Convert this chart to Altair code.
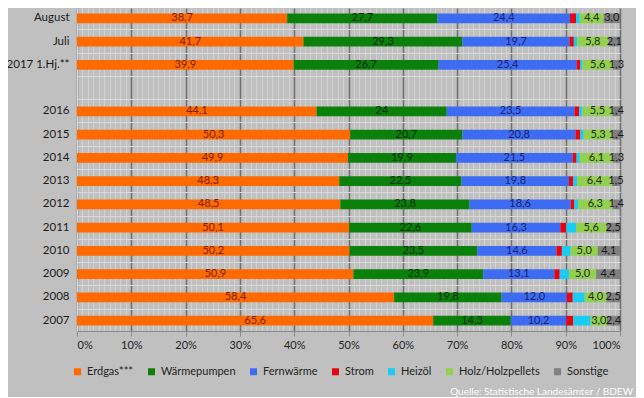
import altair as alt
import pandas as pd

categories = ["August", "Juli", "2017 1.Hj.**", " ", "2016", "2015", "2014", "2013",
              "2012", "2011", "2010", "2009", "2008", "2007"]
rows_with_data = ["August", "Juli", "2017 1.Hj.**", "2016", "2015", "2014", "2013",
                  "2012", "2011", "2010", "2009", "2008", "2007"]
series = ["Erdgas***", "Wärmepumpen", "Fernwärme", "Strom", "Heizöl", "Holz/Holzpellets", "Sonstige"]

erdgas = [38.7, 41.7, 39.9, 44.1, 50.3, 49.9, 48.3, 48.5, 50.1, 50.2, 50.9, 58.4, 65.6]
waermepumpen = [27.7, 29.3, 26.7, 24.0, 20.7, 19.9, 22.5, 23.8, 22.6, 23.5, 23.9, 19.8, 14.3]
fernwaerme = [24.4, 19.7, 25.4, 23.5, 20.8, 21.5, 19.8, 18.6, 16.3, 14.6, 13.1, 12.0, 10.2]
strom = [1.1, 0.8, 0.7, 0.9, 0.9, 0.7, 0.8, 0.7, 1.1, 1.0, 1.0, 1.1, 1.3]
heizoel = [0.7, 0.6, 0.4, 0.6, 0.6, 0.6, 0.7, 0.7, 1.8, 1.6, 1.7, 2.2, 3.2]
holz = [4.4, 5.8, 5.6, 5.5, 5.3, 6.1, 6.4, 6.3, 5.6, 5.0, 5.0, 4.0, 3.0]
sonstige = [3.0, 2.1, 1.3, 1.4, 1.4, 1.3, 1.5, 1.4, 2.5, 4.1, 4.4, 2.5, 2.4]

labelled = ["Erdgas***", "Wärmepumpen", "Fernwärme", "Holz/Holzpellets", "Sonstige"]
label_overrides = {("2016", "Wärmepumpen"): "24"}

bar_colors = ["#FF6A00", "#0B800B", "#3D6CF2", "#E30613", "#1CCBF4", "#92D050", "#808080"]
text_colors = ["#7A1E00", "#0A2E0A", "#16236B", "#000000", "#000000", "#1E2A10", "#1A1A1A"]

values = [erdgas, waermepumpen, fernwaerme, strom, heizoel, holz, sonstige]

recs = []
for i, cat in enumerate(rows_with_data):
    start = 0.0
    for j, s in enumerate(series):
        v = values[j][i]
        lab = ""
        if s in labelled:
            lab = label_overrides.get((cat, s), f"{v:.1f}".replace(".", ","))
        recs.append(dict(cat=cat, series=s, start=start, end=start + v,
                         mid=start + v / 2, label=lab, tcolor=text_colors[j], order=j))
        start += v
df = pd.DataFrame(recs)

FONT = "Lato"
xscale = alt.Scale(domain=[0, 100], nice=False, zero=True)
yscale = alt.Scale(domain=categories, paddingInner=0.583, paddingOuter=0.234)

grid_layer = alt.Chart(df).mark_tick(opacity=0).encode(
    x=alt.X("start:Q", scale=xscale,
            axis=alt.Axis(values=list(range(0, 101)), grid=True, gridColor="#d2d2d2",
                          gridWidth=1, labels=False, ticks=False, domain=False,
                          title=None, orient="bottom")),
    y=alt.Y("cat:N", scale=yscale, sort=categories,
            axis=alt.Axis(grid=True, gridColor="#dadada", gridWidth=1, labels=False,
                          ticks=False, domain=False, title=None, orient="left",
                          bandPosition=-0.699)),
)

bars = alt.Chart(df).mark_bar().encode(
    x=alt.X("start:Q", scale=xscale,
            axis=alt.Axis(values=list(range(0, 101, 10)), grid=True, gridColor="#6f6f6f",
                          gridWidth=1.5, labelExpr="datum.value + '%'", title=None,
                          tickSize=5, tickColor="#8a8a8a", domainColor="#8a8a8a",
                          labelFont=FONT, labelFontSize=11, labelColor="#222222",
                          labelPadding=3, orient="bottom")),
    x2="end:Q",
    y=alt.Y("cat:N", scale=yscale, sort=categories,
            axis=alt.Axis(title=None, grid=False, ticks=False, domain=True,
                          domainColor="#d8d8d8", labelFont=FONT, labelFontSize=11.5,
                          labelColor="#1a1a1a", labelPadding=8, orient="left")),
    color=alt.Color("series:N", scale=alt.Scale(domain=series, range=bar_colors),
                    sort=series,
                    legend=alt.Legend(title=None, orient="none", legendX=-5, legendY=358,
                                      direction="horizontal", columns=7, symbolType="square",
                                      symbolSize=49, symbolStrokeWidth=0, labelFont=FONT,
                                      labelFontSize=11, labelColor="#222222",
                                      columnPadding=12, labelOffset=4, padding=0)),
    order=alt.Order("order:Q"),
)

texts = alt.Chart(df).mark_text(font=FONT, fontSize=11, baseline="middle", align="center").encode(
    x=alt.X("mid:Q", scale=xscale, axis=None),
    y=alt.Y("cat:N", scale=yscale, sort=categories, axis=None),
    text="label:N",
    color=alt.Color("tcolor:N", scale=None),
)

source = alt.Chart(pd.DataFrame({"t": ["Quelle: Statistische Landesämter / BDEW"]})).mark_text(
    font=FONT, fontSize=10, color="white", align="right", baseline="middle"
).encode(text="t:N", x=alt.value(556), y=alt.value(384))

chart = alt.layer(grid_layer, bars, texts, source).resolve_axis(
    x="independent", y="independent"
).properties(
    width=543, height=323,
    autosize=alt.AutoSizeParams(type="none"),
    padding={"left": 69, "top": 0, "right": 16, "bottom": 66},
).configure(background="#C0C0C0").configure_view(stroke=None)

chart.save("out.html", embed_options={"renderer": "svg", "actions": False})
